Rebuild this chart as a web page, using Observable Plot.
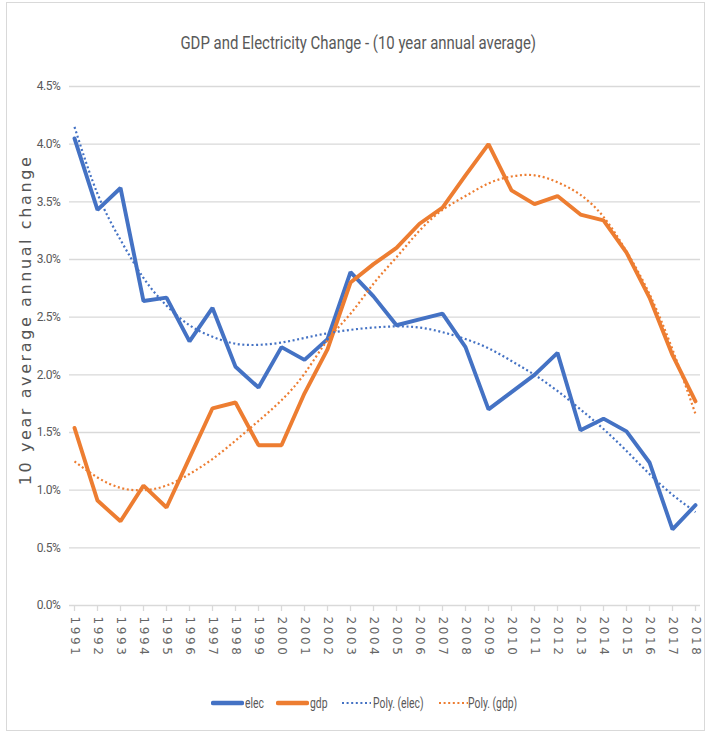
<!DOCTYPE html>
<html><head><meta charset="utf-8">
<script src="https://cdn.jsdelivr.net/npm/d3@7"></script>
<script src="https://cdn.jsdelivr.net/npm/@observablehq/plot@0.6"></script>
<style>
body{margin:0;background:#fff;width:710px;height:733px;position:relative;overflow:hidden;font-family:Roboto,sans-serif;color:#595959;}
#frame{position:absolute;left:6px;top:2px;width:699px;height:729px;border:1px solid #d9d9d9;box-sizing:border-box;}
#title{position:absolute;left:3px;top:32px;width:710px;text-align:center;font-size:18px;color:#595959;white-space:nowrap;}
#title span{display:inline-block;transform:scaleX(0.83);transform-origin:center;}
#chart{position:absolute;left:0;top:70px;}
.lg{position:absolute;top:694px;height:18px;display:flex;align-items:center;font-size:14px;color:#595959;white-space:nowrap;}
.lg span{display:inline-block;transform:scaleX(0.74);transform-origin:left center;}
svg [aria-label="x-axis tick label"] text{font-family:"DejaVu Sans",sans-serif;font-size:12px;letter-spacing:2.6px;fill:#666;}
svg [aria-label="y-axis tick label"] text{font-family:Roboto,sans-serif;font-size:12px;letter-spacing:-0.4px;fill:#595959;}
svg [aria-label="x-axis tick"] path{stroke:#d9d9d9;stroke-width:1.3px;}
</style>
</head><body>
<div id="frame"></div>
<div id="title"><span>GDP and Electricity Change - (10 year annual average)</span></div>
<div id="chart"></div>
<script>
const years = [1991,1992,1993,1994,1995,1996,1997,1998,1999,2000,2001,2002,2003,2004,2005,2006,2007,2008,2009,2010,2011,2012,2013,2014,2015,2016,2017,2018];
// percent values
const elec = [4.05,3.43,3.62,2.64,2.67,2.29,2.58,2.07,1.89,2.24,2.13,2.31,2.89,2.68,2.43,2.48,2.53,2.24,1.70,1.85,2.00,2.19,1.52,1.62,1.51,1.24,0.66,0.87];
const gdp = [1.54,0.91,0.73,1.04,0.85,1.28,1.71,1.76,1.39,1.39,1.84,2.22,2.80,2.96,3.10,3.31,3.45,3.73,4.00,3.60,3.48,3.55,3.39,3.34,3.06,2.67,2.17,1.77];
const polyElec = [4.15,3.57,3.17,2.84,2.60,2.43,2.33,2.27,2.26,2.28,2.32,2.36,2.39,2.41,2.42,2.41,2.37,2.31,2.23,2.12,2.00,1.86,1.70,1.53,1.34,1.14,0.96,0.81];
const polyGdp = [1.25,1.11,1.02,1.00,1.04,1.14,1.27,1.43,1.60,1.78,2.01,2.30,2.53,2.79,3.02,3.25,3.43,3.55,3.66,3.72,3.73,3.67,3.56,3.37,3.07,2.70,2.22,1.66];
const yTicks = [0,0.005,0.01,0.015,0.02,0.025,0.03,0.035,0.04,0.045];
const seriesNames = ["elec","gdp","Poly. (elec)","Poly. (gdp)"];
const colors = {elec:"#4472C4", gdp:"#ED7D31"};
const dots = "2,2.6";

const rows = (vals) => years.map((yr,i)=>({year:yr, value: vals[i]/100}));

const plot = Plot.plot({
  width:710, height:600,
  marginLeft:69, marginRight:10, marginTop:16, marginBottom:65,
  style:{background:"transparent"},
  x:{type:"point", domain:years, padding:0},
  y:{domain:[0,0.045]},
  marks:[
    Plot.ruleY(yTicks, {stroke:"#d9d9d9", strokeWidth:1.4}),
    Plot.axisY(yTicks, {tickFormat:d=>(d*100).toFixed(1)+"%", tickSize:0, tickPadding:9, label:null}),
    Plot.axisX(years, {tickRotate:90, tickSize:6, tickPadding:5, tickFormat:d=>String(d), label:null}),
    Plot.line(rows(elec), {x:"year", y:"value", stroke:colors.elec, strokeWidth:3.9, strokeLinejoin:"miter"}),
    Plot.line(rows(gdp), {x:"year", y:"value", stroke:colors.gdp, strokeWidth:3.9, strokeLinejoin:"miter"}),
    Plot.line(rows(polyElec), {x:"year", y:"value", stroke:colors.elec, strokeWidth:2.2, strokeDasharray:dots, strokeLinecap:"butt", curve:"natural"}),
    Plot.line(rows(polyGdp), {x:"year", y:"value", stroke:colors.gdp, strokeWidth:2.2, strokeDasharray:dots, strokeLinecap:"butt", curve:"natural"})
  ]
});
document.getElementById("chart").appendChild(plot);

d3.select(plot).append("text")
  .attr("transform","translate(31,250) rotate(-90)")
  .attr("text-anchor","middle")
  .style("font-family","DejaVu Sans, sans-serif")
  .style("font-size","16px")
  .style("letter-spacing","2.6px")
  .style("fill","#555")
  .text("10 year average annual change");

const legendSpec = [
  {name:seriesNames[0], color:colors.elec, dash:null, w:4.5, x:211, tx:245},
  {name:seriesNames[1], color:colors.gdp, dash:null, w:4.5, x:276, tx:310},
  {name:seriesNames[2], color:colors.elec, dash:dots, w:2.2, x:340, tx:373},
  {name:seriesNames[3], color:colors.gdp, dash:dots, w:2.2, x:437, tx:468}
];
const body = d3.select("body");
legendSpec.forEach(s=>{
  const sv = body.append("svg").attr("class","lgsym")
    .style("position","absolute").style("left", s.x+"px").style("top","698px")
    .attr("width",33).attr("height",10);
  sv.append("line").attr("x1",2).attr("x2",31).attr("y1",5).attr("y2",5)
    .attr("stroke",s.color).attr("stroke-width",s.w)
    .attr("stroke-linecap", s.dash ? "butt" : "round")
    .attr("stroke-dasharray",s.dash);
  body.append("div").attr("class","lg").style("left", s.tx+"px")
    .append("span").text(s.name);
});
</script>
</body></html>
